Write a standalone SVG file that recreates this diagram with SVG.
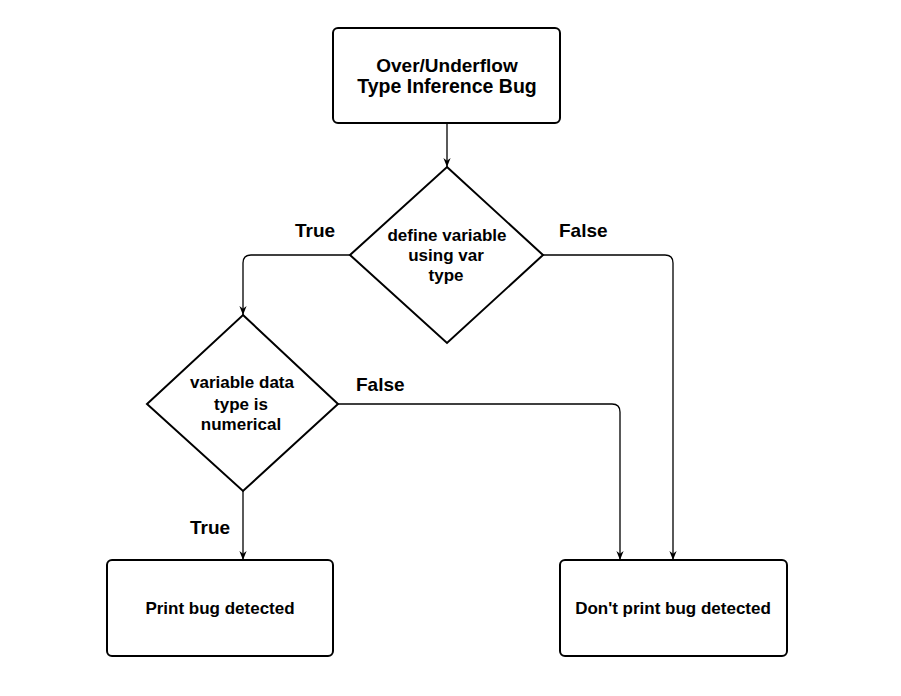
<svg xmlns="http://www.w3.org/2000/svg" width="901" height="696" viewBox="0 0 901 696">
<defs>
<marker id="arr" viewBox="0 0 10 10" refX="10" refY="5" markerWidth="9" markerHeight="9" markerUnits="userSpaceOnUse" orient="auto">
<path d="M0,1 L10,5 L0,9 L3,5 Z" fill="#000"/>
</marker>
<style>
.box{fill:#fff;stroke:#000;stroke-width:2}
.t{font-family:"Liberation Sans",Arial,sans-serif;font-weight:bold;fill:#000;text-anchor:middle}
.lbl{font-family:"Liberation Sans",Arial,sans-serif;font-weight:bold;fill:#000;font-size:19px}
.edge{fill:none;stroke:#000;stroke-width:1.3;marker-end:url(#arr)}
</style>
</defs>
<rect width="901" height="696" fill="#fff"/>
<g id="connectors">
<path class="edge" d="M447,123 L447,167"/>
<path class="edge" d="M350,255 L251,255 Q243,255 243,263 L243,315"/>
<path class="edge" d="M543,255 L665,255 Q673,255 673,263 L673,560"/>
<path class="edge" d="M338,404 L612,404 Q620,404 620,412 L620,560"/>
<path class="edge" d="M243,491 L243,560"/>
</g>
<g id="start">
<rect class="box" x="333" y="28" width="227" height="95" rx="5"/>
<text class="t" x="447" y="72" font-size="19">Over/Underflow</text>
<text class="t" x="447" y="93" font-size="19.5">Type Inference Bug</text>
</g>
<g id="decision1">
<polygon class="box" points="447,167 543,255 447,343 350,255"/>
<text class="t" x="447" y="241" font-size="17">define variable</text>
<text class="t" x="446" y="261" font-size="17">using var</text>
<text class="t" x="446" y="281" font-size="17">type</text>
</g>
<g id="decision2">
<polygon class="box" points="243,315 338,404 243,491 147,404"/>
<text class="t" x="242" y="388" font-size="17">variable data</text>
<text class="t" x="241" y="410" font-size="17">type is</text>
<text class="t" x="241" y="430" font-size="17">numerical</text>
</g>
<g id="print">
<rect class="box" x="107" y="560" width="226" height="96" rx="5"/>
<text class="t" x="220" y="614" font-size="17">Print bug detected</text>
</g>
<g id="noprint">
<rect class="box" x="560" y="560" width="227" height="96" rx="5"/>
<text class="t" x="673" y="614" font-size="17">Don't print bug detected</text>
</g>
<g id="labels">
<text class="lbl" x="295" y="237">True</text>
<text class="lbl" x="559" y="237">False</text>
<text class="lbl" x="356" y="391">False</text>
<text class="lbl" x="190" y="534">True</text>
</g>
</svg>
